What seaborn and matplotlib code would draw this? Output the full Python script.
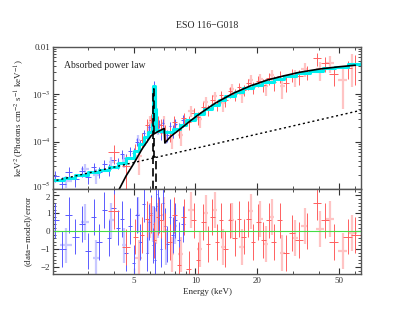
import numpy as np
import matplotlib
matplotlib.use("Agg")
import matplotlib.pyplot as plt
import matplotlib.ticker as mticker
import matplotlib.transforms as mtransforms
import seaborn as sns

# ---- model components ----
cyan_energy = [2.0, 2.3, 2.6, 3.0, 3.4, 3.8, 4.2, 4.6, 5.0, 5.3,
               5.6, 5.9, 6.15, 6.22, 6.34, 6.45, 6.6, 7.0, 7.3, 7.8,
               8.4, 9.0, 10, 11, 12, 13, 14, 15.5, 17, 19,
               21, 24, 27, 31, 36, 42, 48, 55, 64]
cyan_flux = [1.55e-5, 1.75e-5, 1.95e-5, 2.25e-5, 2.55e-5, 2.9e-5, 3.5e-5, 4.6e-5, 6.5e-5, 9e-5,
             1.25e-4, 1.6e-4, 2.4e-4, 1.5e-3, 5e-4, 1.8e-4, 1.65e-4, 1.6e-4, 1.6e-4, 1.85e-4,
             2.2e-4, 2.8e-4, 3.8e-4, 4.8e-4, 6e-4, 7.5e-4, 9e-4, 1.1e-3, 1.35e-3, 1.6e-3,
             1.85e-3, 2.15e-3, 2.45e-3, 2.75e-3, 3.1e-3, 3.5e-3, 3.85e-3, 4.3e-3, 4.6e-3]

abs_energy = [4.0, 4.26, 4.6, 5.0, 5.5, 6.1, 6.6, 7.05, 7.1, 7.6, 8.45, 9.5, 10.6,
              12.5, 15.3, 18.5, 22.4, 27, 32, 40, 50, 60]
abs_flux = [6e-6, 1e-5, 1.9e-5, 3.4e-5, 7e-5, 1.35e-4, 1.65e-4, 1.9e-4, 9.4e-5, 1.3e-4, 1.86e-4, 2.8e-4, 4.0e-4,
            6.5e-4, 1.05e-3, 1.5e-3, 2.0e-3, 2.45e-3, 2.9e-3, 3.4e-3, 3.8e-3, 4.1e-3]

scat_energy = [2.0, 64.0]
scat_flux = [1.45e-5, 4.6e-4]

gauss_energy = [6.0, 6.1, 6.2, 6.3, 6.42, 6.6]
gauss_flux = [1e-6, 1e-6, 1.3e-3, 4.7e-5, 1e-6, 1e-6]

# ---- data (energy, half width, flux, flux error, residual) ----
blue_e = [2.08, 2.25, 2.42, 2.6, 2.8, 3.0, 3.2, 3.4, 3.6, 3.8,
          4.0, 4.2, 4.4, 4.6, 4.8, 5.0, 5.2, 5.4, 5.6, 5.8,
          5.95, 6.08, 6.2, 6.28, 6.36, 6.45, 6.55, 6.68, 6.82, 6.97,
          7.12, 7.3, 7.5, 7.75, 8.0, 8.3, 8.7]
blue_de = [0.08, 0.09, 0.09, 0.1, 0.1, 0.1, 0.1, 0.1, 0.1, 0.1,
           0.1, 0.1, 0.1, 0.1, 0.1, 0.1, 0.1, 0.1, 0.1, 0.08,
           0.07, 0.06, 0.05, 0.04, 0.04, 0.05, 0.05, 0.07, 0.07, 0.08,
           0.08, 0.1, 0.1, 0.12, 0.13, 0.15, 0.2]
blue_f = [1.9e-5, 1.3e-5, 2.3e-5, 1.6e-5, 2.4e-5, 1.8e-5, 2.9e-5, 2.3e-5, 3.4e-5, 2.6e-5,
          4.2e-5, 3.6e-5, 5.5e-5, 4.5e-5, 6.5e-5, 5.8e-5, 1.0e-4, 9.0e-5, 1.5e-4, 1.3e-4,
          2.0e-4, 2.8e-4, 6.5e-4, 1.6e-3, 9.0e-4, 3.5e-4, 2.2e-4, 2.4e-4, 1.5e-4, 2.5e-4,
          1.7e-4, 1.4e-4, 2.1e-4, 1.7e-4, 2.4e-4, 1.9e-4, 2.8e-4]
blue_df = [5e-6, 5e-6, 6e-6, 5e-6, 6e-6, 5e-6, 7e-6, 6e-6, 8e-6, 7e-6,
           9e-6, 9e-6, 1.2e-5, 1.1e-5, 1.4e-5, 1.4e-5, 2e-5, 2e-5, 3e-5, 3e-5,
           4e-5, 5e-5, 1.2e-4, 3e-4, 2e-4, 7e-5, 5e-5, 5e-5, 4e-5, 5e-5,
           4e-5, 4e-5, 5e-5, 5e-5, 6e-5, 6e-5, 8e-5]
blue_res = [0.6, -1.0, 0.9, -0.3, 0.4, -1.1, 0.8, -0.6, 1.2, -0.4,
            1.3, 0.2, 0.7, -1.2, 0.3, -1.8, 0.9, -0.6, 1.5, -1.2,
            0.5, 1.0, -0.8, 0.4, -1.6, 2.1, 1.4, 0.9, -1.0, 1.6,
            0.3, -0.7, 0.8, -0.2, 0.6, -0.5, 0.4]

lblue_e = [2.35, 2.9, 3.3, 3.9, 4.5, 5.25, 5.9, 6.25, 6.6, 7.2, 8.0]
lblue_de = [0.15, 0.12, 0.12, 0.12, 0.12, 0.1, 0.08, 0.05, 0.06, 0.1, 0.15]
lblue_f = [1.45e-5, 2.6e-5, 2.0e-5, 3.8e-5, 4.0e-5, 1.1e-4, 1.7e-4, 1.1e-3, 1.9e-4, 1.3e-4, 2.2e-4]
lblue_df = [4e-6, 8e-6, 7e-6, 1e-5, 1.2e-5, 2.5e-5, 4e-5, 3e-4, 5e-5, 4e-5, 7e-5]
lblue_res = [-0.8, 0.5, -1.5, 0.6, -0.8, 0.9, -0.3, 0.4, 0.6, -0.9, 0.3]

red_e = [4.0, 4.6, 5.1, 5.5, 5.8, 6.05, 6.3, 6.55, 6.8, 7.1,
         7.5, 7.9, 8.3, 8.8, 9.3, 9.8, 10.3, 10.9, 11.5, 12.1,
         12.7, 13.3, 14.0, 14.7, 15.5, 16.3, 17.2, 18.1, 19.1, 20.2,
         21.4, 22.7, 24.1, 25.7, 27.5, 29.5, 32.0, 35.0, 39.0, 42.7,
         47.0, 55.0, 60.0]
red_de = [0.25, 0.2, 0.15, 0.15, 0.12, 0.1, 0.1, 0.1, 0.12, 0.15,
          0.2, 0.2, 0.2, 0.25, 0.25, 0.25, 0.25, 0.3, 0.3, 0.3,
          0.3, 0.3, 0.35, 0.35, 0.4, 0.4, 0.45, 0.45, 0.5, 0.55,
          0.6, 0.65, 0.7, 0.8, 0.9, 1.0, 1.3, 1.5, 1.8, 2.0,
          2.5, 3.0, 3.0]
red_f = [6.0e-5, 3.0e-5, 6.5e-5, 1.1e-4, 2.2e-4, 2.8e-4, 1.2e-3, 2.5e-4, 2.2e-4, 1.6e-4,
         1.5e-4, 2.6e-4, 1.8e-4, 3.2e-4, 2.6e-4, 4.0e-4, 3.3e-4, 5.5e-4, 4.6e-4, 7.6e-4,
         6.0e-4, 9.5e-4, 7.5e-4, 1.15e-3, 1.0e-3, 1.4e-3, 1.25e-3, 1.7e-3, 1.4e-3, 1.9e-3,
         1.6e-3, 2.2e-3, 1.8e-3, 2.4e-3, 1.7e-3, 2.6e-3, 2.4e-3, 3.0e-3, 5.8e-3, 4.6e-3,
         2.7e-3, 3.6e-3, 4.1e-3]
red_df = [2.5e-5, 2.2e-5, 2.5e-5, 4e-5, 8e-5, 1e-4, 3e-4, 1e-4, 8e-5, 6e-5,
          5e-5, 8e-5, 6e-5, 9e-5, 8e-5, 1.1e-4, 1e-4, 1.4e-4, 1.2e-4, 2e-4,
          1.6e-4, 2.5e-4, 2e-4, 3e-4, 2.8e-4, 3.5e-4, 3.5e-4, 4.5e-4, 4e-4, 5e-4,
          5e-4, 6e-4, 6e-4, 7e-4, 6e-4, 8e-4, 8e-4, 1e-3, 1.8e-3, 1.6e-3,
          1.2e-3, 1.5e-3, 2.5e-3]
red_res = [1.1, -0.9, -0.3, -0.2, 0.7, 0.9, -0.5, 0.8, 0.6, 0.0,
           -0.6, 0.9, -1.9, 0.8, -2.1, 0.6, -1.6, 0.5, -0.7, 0.8,
           -0.6, 0.6, -1.0, 0.6, -0.4, 0.7, -0.3, 0.7, -0.6, 0.5,
           -0.5, 0.6, -0.6, 0.6, -1.2, -0.1, -0.5, 0.0, 1.6, 0.6,
           -0.6, -0.3, -0.2]

pink_e = [5.3, 6.0, 6.4, 7.0, 7.7, 8.5, 9.5, 10.5, 11.2, 12.4,
          13.6, 15.0, 16.8, 18.6, 20.7, 22.0, 23.5, 26.5, 30.5, 34.0,
          40.5, 45.0, 52.0, 58.0]
pink_de = [0.2, 0.12, 0.1, 0.15, 0.2, 0.25, 0.3, 0.3, 0.3, 0.35,
           0.35, 0.4, 0.45, 0.5, 0.55, 0.6, 0.65, 0.8, 1.0, 1.3,
           1.8, 2.0, 2.5, 3.0]
pink_f = [5.0e-5, 2.5e-4, 6e-4, 2.5e-4, 1.2e-4, 1.4e-4, 4.5e-4, 3.0e-4, 7.0e-4, 9.0e-4,
          6.5e-4, 1.3e-3, 1.0e-3, 2.0e-3, 2.1e-3, 1.5e-3, 2.6e-3, 1.5e-3, 2.3e-3, 3.4e-3,
          3.4e-3, 4.6e-3, 2.0e-3, 4.2e-3]
pink_df = [3e-5, 1e-4, 3e-4, 9e-5, 5e-5, 6e-5, 1.2e-4, 1.1e-4, 1.8e-4, 2.3e-4,
           2.2e-4, 3.5e-4, 3.5e-4, 5e-4, 6e-4, 6e-4, 7e-4, 7e-4, 9e-4, 1.1e-3,
           1.5e-3, 1.8e-3, 1.5e-3, 2.8e-3]
pink_res = [-1.5, 0.6, 0.3, 0.9, -1.3, -1.3, 1.2, -1.0, 1.0, 1.2,
            -0.9, 0.6, -0.9, 1.1, 0.7, -0.7, 0.8, -1.2, -0.4, 0.3,
            0.1, 0.7, -1.1, -0.1]

sns.set_theme(style="ticks")
plt.rcParams["font.family"] = ["Liberation Serif", "DejaVu Serif"]
plt.rcParams["mathtext.fontset"] = "stix"
plt.rcParams["axes.edgecolor"] = "#555555"
plt.rcParams["xtick.color"] = "#333333"
plt.rcParams["ytick.color"] = "#333333"

fig = plt.figure(figsize=(4.15, 3.21), dpi=100)
ax = fig.add_axes([0.128, 0.411, 0.742, 0.443])
axr = fig.add_axes([0.128, 0.146, 0.742, 0.265], sharex=ax)

DARK_BLUE, LIGHT_BLUE = "#5a5aff", "#c8c8ff"
DARK_RED, LIGHT_RED = "#ff6060", "#ffc4c4"

datasets = [
    (lblue_e, lblue_de, lblue_f, lblue_df, lblue_res, LIGHT_BLUE, 1.6),
    (pink_e, pink_de, pink_f, pink_df, pink_res, LIGHT_RED, 1.6),
    (blue_e, blue_de, blue_f, blue_df, blue_res, DARK_BLUE, 0.7),
    (red_e, red_de, red_f, red_df, red_res, DARK_RED, 0.7),
]
for e, de, f, df, res, col, lw in datasets:
    ax.errorbar(e, f, xerr=de, yerr=df, fmt="none", ecolor=col, elinewidth=lw, capsize=0)
    axr.errorbar(e, res, xerr=de, yerr=np.ones(len(e)), fmt="none", ecolor=col,
                 elinewidth=lw, capsize=0)

# folded model
ax.step(cyan_energy, cyan_flux, where="post", color="#00f0f0", lw=2.2)

# model components
sns.lineplot(x=abs_energy, y=abs_flux, ax=ax, color="black", lw=1.2,
             sort=False, estimator=None)
sns.lineplot(x=scat_energy, y=scat_flux, ax=ax, color="black", lw=1.0,
             linestyle=(0, (1.5, 2)), sort=False, estimator=None)
ax.step(gauss_energy, gauss_flux, where="post", color="black", lw=1.2,
        linestyle=(0, (5, 2.5)))

ax.text(0.035, 0.85, "Absorbed power law", transform=ax.transAxes, fontsize=7)

ax.set_xscale("log")
ax.set_yscale("log")
ax.set_xlim(2.03, 64)
ax.set_ylim(1e-5, 1e-2)
ax.set_yticks([1e-5, 1e-4, 1e-3, 1e-2])
ax.set_yticklabels(["10$^{-5}$", "10$^{-4}$", "10$^{-3}$", "0.01"])
ax.yaxis.set_minor_locator(mticker.LogLocator(base=10, subs=np.arange(2, 10), numticks=20))
ax.yaxis.set_minor_formatter(mticker.NullFormatter())
ax.set_ylabel("keV$^2$ (Photons cm$^{-2}$ s$^{-1}$ keV$^{-1}$)", fontsize=6.5, labelpad=4)
plt.setp(ax.get_xticklabels(), visible=False)

axr.axhline(0, color="#44dd44", lw=0.8)
axr.set_ylim(-2.4, 2.35)
axr.set_yticks([-2, -1, 0, 1, 2])
axr.yaxis.set_minor_locator(mticker.MultipleLocator(0.2))
axr.set_xticks([5, 10, 20, 50])
axr.set_xticklabels(["5", "10", "20", "50"])
axr.xaxis.set_minor_locator(mticker.LogLocator(base=10, subs=np.arange(2, 10), numticks=20))
axr.xaxis.set_minor_formatter(mticker.NullFormatter())
axr.set_xlabel("Energy (keV)", fontsize=6.5, labelpad=2)
axr.set_ylabel("(data$-$model)/error", fontsize=6.5, labelpad=4)

for a in (ax, axr):
    a.tick_params(which="both", direction="in", top=True, right=True, labelsize=6.5, pad=2)
    a.tick_params(which="major", length=4, width=0.8)
    a.tick_params(which="minor", length=2, width=0.6)
    for s in a.spines.values():
        s.set_linewidth(1.0)
ax.xaxis.set_minor_formatter(mticker.NullFormatter())

# nudge the lowest flux label up a little so it clears the residual "2"
fig.canvas.draw()
lowest = ax.get_yticklabels()[0]
lowest.set_transform(lowest.get_transform()
                     + mtransforms.ScaledTranslation(0, 2.5 / 72, fig.dpi_scale_trans))
top_res = axr.get_yticklabels()[-1]
top_res.set_transform(top_res.get_transform()
                      + mtransforms.ScaledTranslation(0, -1.5 / 72, fig.dpi_scale_trans))

fig.text(0.5, 0.912, "ESO 116\u2212G018", ha="center", fontsize=7)

fig.savefig("out.png", dpi=100)
